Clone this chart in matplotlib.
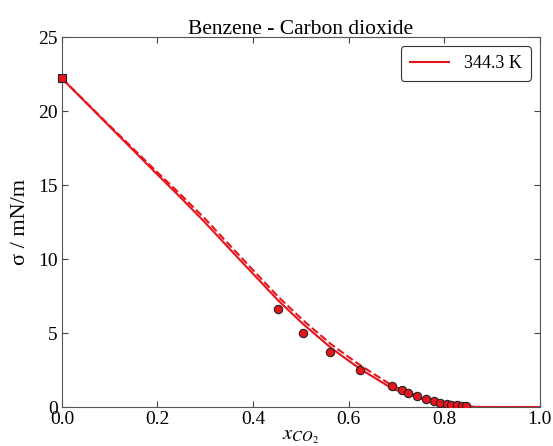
import matplotlib
matplotlib.use("Agg")
import matplotlib.pyplot as plt

plt.rcParams['font.family'] = ['Liberation Serif', 'DejaVu Serif']
plt.rcParams['mathtext.fontset'] = 'stix'

# Experimental data
x_exp = [0.4526, 0.505, 0.562, 0.623, 0.691, 0.711, 0.724, 0.744, 0.763, 0.778,
         0.792, 0.805, 0.815, 0.827, 0.837, 0.845]
s_exp = [6.62, 4.98, 3.74, 2.50, 1.43, 1.12, 0.92, 0.72, 0.53, 0.39,
         0.29, 0.20, 0.16, 0.11, 0.07, 0.04]

# Pure benzene value
x_pure = [0.0]
s_pure = [22.2]

# Model (solid)
x_model = [0.0, 0.1, 0.2, 0.247, 0.3, 0.365, 0.4526, 0.505, 0.563, 0.582, 0.623,
           0.691, 0.756, 0.812, 0.85, 0.88, 1.0]
s_model = [22.2, 18.95, 15.7, 14.2, 12.45, 10.2, 7.2, 5.6, 4.0, 3.55, 2.6,
           1.25, 0.52, 0.14, 0.02, 0.0, 0.0]

# Model (dashed)
x_model2 = [0.0, 0.1, 0.2, 0.247, 0.3, 0.365, 0.4526, 0.505, 0.563, 0.582, 0.623,
            0.691, 0.756, 0.812, 0.85, 0.88, 1.0]
s_model2 = [22.2, 19.0, 15.85, 14.4, 12.7, 10.45, 7.45, 5.85, 4.25, 3.8, 2.85,
            1.45, 0.62, 0.18, 0.03, 0.0, 0.0]

label = "344.3 K"
red = '#e8141c'

fig = plt.figure(figsize=(5.53, 4.46), dpi=100)
ax = fig.add_axes([0.112, 0.0874, 0.864, 0.8296])

ax.plot(x_model, s_model, '-', color=red, lw=1.5, label=label)
ax.plot(x_model2, s_model2, '--', color=red, lw=1.5)
ax.plot(x_exp, s_exp, 'o', color=red, mec='#222222', mew=0.8, ms=6, zorder=5)
ax.plot(x_pure, s_pure, 's', color=red, mec='#222222', mew=0.8, ms=6, zorder=5, clip_on=False)

ax.set_xlim(0, 1)
ax.set_ylim(0, 25)
ax.set_xticks([0, 0.2, 0.4, 0.6, 0.8, 1.0])
ax.set_yticks([0, 5, 10, 15, 20, 25])
ax.set_xticklabels(['0.0', '0.2', '0.4', '0.6', '0.8', '1.0'])
ax.tick_params(direction='in', top=True, right=True, labelsize=14, length=4,
               color='#444444', pad=3)
for sp in ax.spines.values():
    sp.set_color('#555555')

ax.set_title('Benzene - Carbon dioxide', fontsize=15.5, pad=2)
ax.set_xlabel('$x_{CO_2}$', fontsize=15, labelpad=-1)
ax.set_ylabel('σ / mN/m', fontsize=16, labelpad=6)

leg = ax.legend(loc='upper right', fontsize=13, fancybox=True, framealpha=1,
                edgecolor='#333333', handlelength=2.2, borderpad=0.5)
leg.get_frame().set_linewidth(0.8)

fig.savefig('out.png', dpi=100)
